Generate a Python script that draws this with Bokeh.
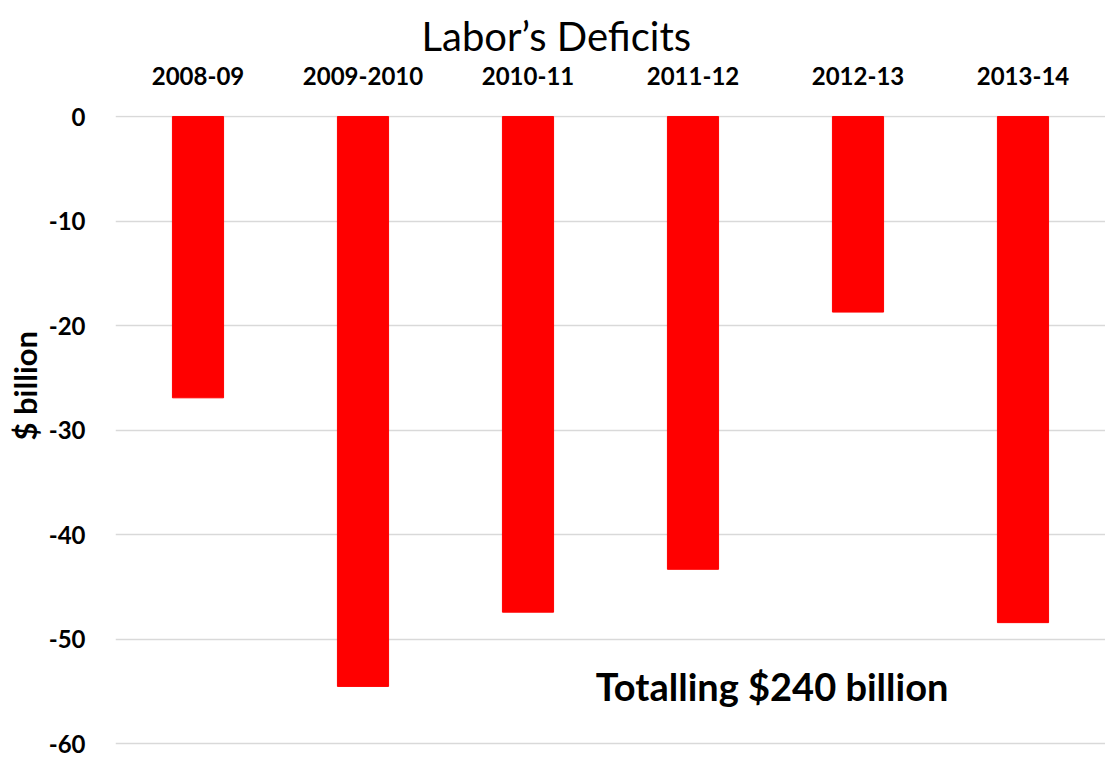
from bokeh.plotting import figure
from bokeh.models import Range1d, Label, Title
from bokeh.embed import file_html
from bokeh.resources import INLINE

categories = ["2008-09", "2009-2010", "2010-11", "2011-12", "2012-13", "2013-14"]
deficits = [-26.9, -54.5, -47.4, -43.3, -18.7, -48.4]
y_ticks = [0, -10, -20, -30, -40, -50, -60]

FONT = "Lato"

p = figure(x_range=categories, y_range=Range1d(-60.15, 0.1),
           width=1105, height=758, output_backend="svg", toolbar_location=None,
           x_axis_location="above",
           min_border_left=115, min_border_right=0, min_border_top=115, min_border_bottom=13)

p.vbar(x=categories, top=deficits, bottom=0, width=0.31, color="#FF0000")

for ax in (p.xaxis[0], p.yaxis[0]):
    ax.axis_line_color = None
    ax.major_tick_line_color = None
    ax.minor_tick_line_color = None
    ax.major_label_text_font = FONT
    ax.major_label_text_font_style = "bold"
    ax.major_label_text_font_size = "24px"
    ax.major_label_text_color = "#000000"

p.xaxis.major_label_standoff = 25
p.yaxis.major_label_standoff = 24
p.yaxis.ticker = y_ticks
p.yaxis.major_label_overrides = {t: str(t) for t in y_ticks}

p.xgrid.grid_line_color = None
p.ygrid.grid_line_color = "#D9D9D9"
p.ygrid.grid_line_width = 1.3
p.outline_line_color = None

p.add_layout(Title(text="Labor\u2019s Deficits", align="left", offset=306, standoff=4,
                   vertical_align="top",
                   text_font=FONT, text_font_style="normal", text_font_size="40px",
                   text_line_height=0.9, text_color="#000000"), "above")

p.add_layout(Title(text="$ billion", align="left", offset=305, standoff=0,
                   vertical_align="top",
                   text_font=FONT, text_font_style="bold", text_font_size="31px",
                   text_line_height=0.9, text_color="#000000"), "left")

p.add_layout(Label(x=2.91, y=-54.5, text="Totalling $240 billion",
                   text_font=FONT, text_font_style="bold", text_font_size="38px",
                   text_align="left", text_baseline="alphabetic", text_color="#000000"))

open("out.html", "w").write(file_html(p, INLINE))
